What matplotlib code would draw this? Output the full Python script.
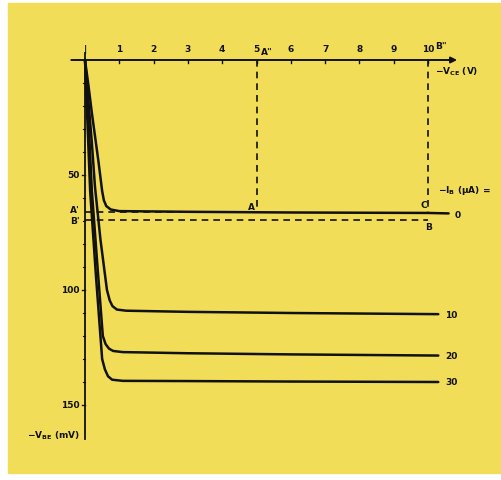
import matplotlib
matplotlib.use("Agg")
import matplotlib.pyplot as plt
from matplotlib.patches import Rectangle

plt.rcParams['mathtext.default'] = 'bf'

# -V_CE (V) and -V_BE (mV), one curve per base current
ib_labels = ["0", "10", "20", "30"]
vce_0 = [0, 0.1, 0.2, 0.3, 0.4, 0.45, 0.5, 0.55, 0.62, 0.75, 1.0, 3.0, 6.0, 10.0, 10.6]
vbe_0 = [0, 11, 23, 34, 45, 51, 57, 61, 63.5, 65, 65.7, 66.0, 66.3, 66.5, 66.7]
vce_10 = [0, 0.1, 0.2, 0.29, 0.45, 0.64, 0.72, 0.8, 0.93, 1.2, 3.0, 6.0, 10.3]
vbe_10 = [0, 18, 36, 55, 78, 100, 104.5, 107, 108.5, 109, 109.5, 110, 110.5]
vce_20 = [0, 0.07, 0.14, 0.2, 0.36, 0.52, 0.6, 0.7, 0.82, 1.1, 3.0, 6.0, 10.3]
vbe_20 = [0, 18, 38, 57, 89, 120, 123.5, 125.5, 126.5, 127, 127.5, 128, 128.5]
vce_30 = [0, 0.05, 0.1, 0.15, 0.32, 0.5, 0.58, 0.67, 0.79, 1.1, 3.0, 6.0, 10.3]
vbe_30 = [0, 19, 38, 57, 94, 130, 134.5, 137.5, 139, 139.5, 139.6, 139.8, 140]
curves = [(vce_0, vbe_0), (vce_10, vbe_10), (vce_20, vbe_20), (vce_30, vbe_30)]

x_ticks = [1, 2, 3, 4, 5, 6, 7, 8, 9, 10]
y_ticks = [50, 100, 150]
y_minor = [10, 20, 30, 40, 60, 70, 80, 90, 110, 120, 130, 140]

# operating points A, B, C and their projections
vce_A, vbe_A = 5, 66.3
vce_C, vbe_C = 10, 66.5
vbe_B = 69.6

ink = "#111111"
yellow = "#f1dd58"

fig = plt.figure(figsize=(5.02, 4.81), dpi=100)
fig.patch.set_facecolor("white")

ax = fig.add_axes([0, 0, 1, 1])
ax.set_xlim(-85 / 34.3, (502 - 85) / 34.3)
ax.set_ylim((481 - 61) / 2.3, -61 / 2.3)
ax.axis("off")
# yellow printed page, white scan margin on the left and bottom
ax.add_patch(Rectangle((8 / 502, 7 / 481), 494 / 502, 470 / 481,
                       transform=ax.transAxes, color=yellow, zorder=-10))

# axes drawn by hand like on the printed figure
ax.annotate("", xy=(10.85, 0), xytext=(-0.4, 0),
            arrowprops=dict(arrowstyle="-|>", color=ink, lw=1.4,
                            mutation_scale=9, shrinkA=0, shrinkB=0))
ax.plot([0, 0], [-3, 165], color=ink, lw=1.3)
ax.text(0.02, -4.8, "|", ha="center", va="center", fontsize=6.5,
        fontweight="bold", color=ink)

for t in x_ticks:
    ax.plot([t, t], [0, 1.2], color=ink, lw=1)
    ax.text(t, -4.8, str(t), ha="center", va="center", fontsize=6.5,
            fontweight="bold", color=ink)
for t in y_ticks:
    ax.plot([-0.08, 0], [t, t], color=ink, lw=1)
    ax.text(-0.15, t, str(t), ha="right", va="center", fontsize=6.5,
            fontweight="bold", color=ink)
for t in y_minor:
    ax.plot([-0.06, 0], [t, t], color=ink, lw=0.8)

# dashed construction lines
ax.plot([vce_A, vce_A], [0, vbe_A], color=ink, lw=1.2, ls=(0, (4, 3)))
ax.plot([vce_C, vce_C], [0, vbe_C], color=ink, lw=1.2, ls=(0, (4, 3)))
ax.plot([0, vce_A], [vbe_A - 0.4, vbe_A - 0.4], color=ink, lw=1.2, ls=(0, (4, 3)))
ax.plot([0, vce_C], [vbe_B, vbe_B], color=ink, lw=1.2, ls=(0, (4, 3)))

for (x, y), lab in zip(curves, ib_labels):
    ax.plot(x, y, color=ink, lw=1.8, solid_capstyle="round")
    if lab == "0":
        ax.text(10.78, y[-1] + 0.3, lab, ha="left", va="center",
                fontsize=6.5, fontweight="bold", color=ink)
    else:
        ax.text(10.5, y[-1], lab, ha="left", va="center",
                fontsize=6.5, fontweight="bold", color=ink)

kw = dict(fontsize=6.5, fontweight="bold", color=ink)
ax.text(vce_A - 0.05, vbe_A - 2.5, "A", ha="right", va="center", **kw)
ax.text(vce_A + 0.12, -3.9, "A\"", ha="left", va="center", **kw)
ax.text(vce_C + 0.2, -6.5, "B\"", ha="left", va="center", **kw)
ax.text(vce_C - 0.02, vbe_C - 3.5, "C", ha="right", va="center", **kw)
ax.text(vce_C + 0.02, vbe_B + 3.0, "B", ha="center", va="center", **kw)
ax.text(-0.15, 65.0, "A'", ha="right", va="center", **kw)
ax.text(-0.15, 69.8, "B'", ha="right", va="center", **kw)
ax.text(10.2, 4.8, r"$-V_{CE}$ (V)", ha="left", va="center", **kw)
ax.text(10.3, 56.5, r"$-I_B$ (µA) =", ha="left", va="center", **kw)
ax.text(-0.15, 163, r"$-V_{BE}$ (mV)", ha="right", va="center", **kw)

fig.savefig("out.png", dpi=100)
